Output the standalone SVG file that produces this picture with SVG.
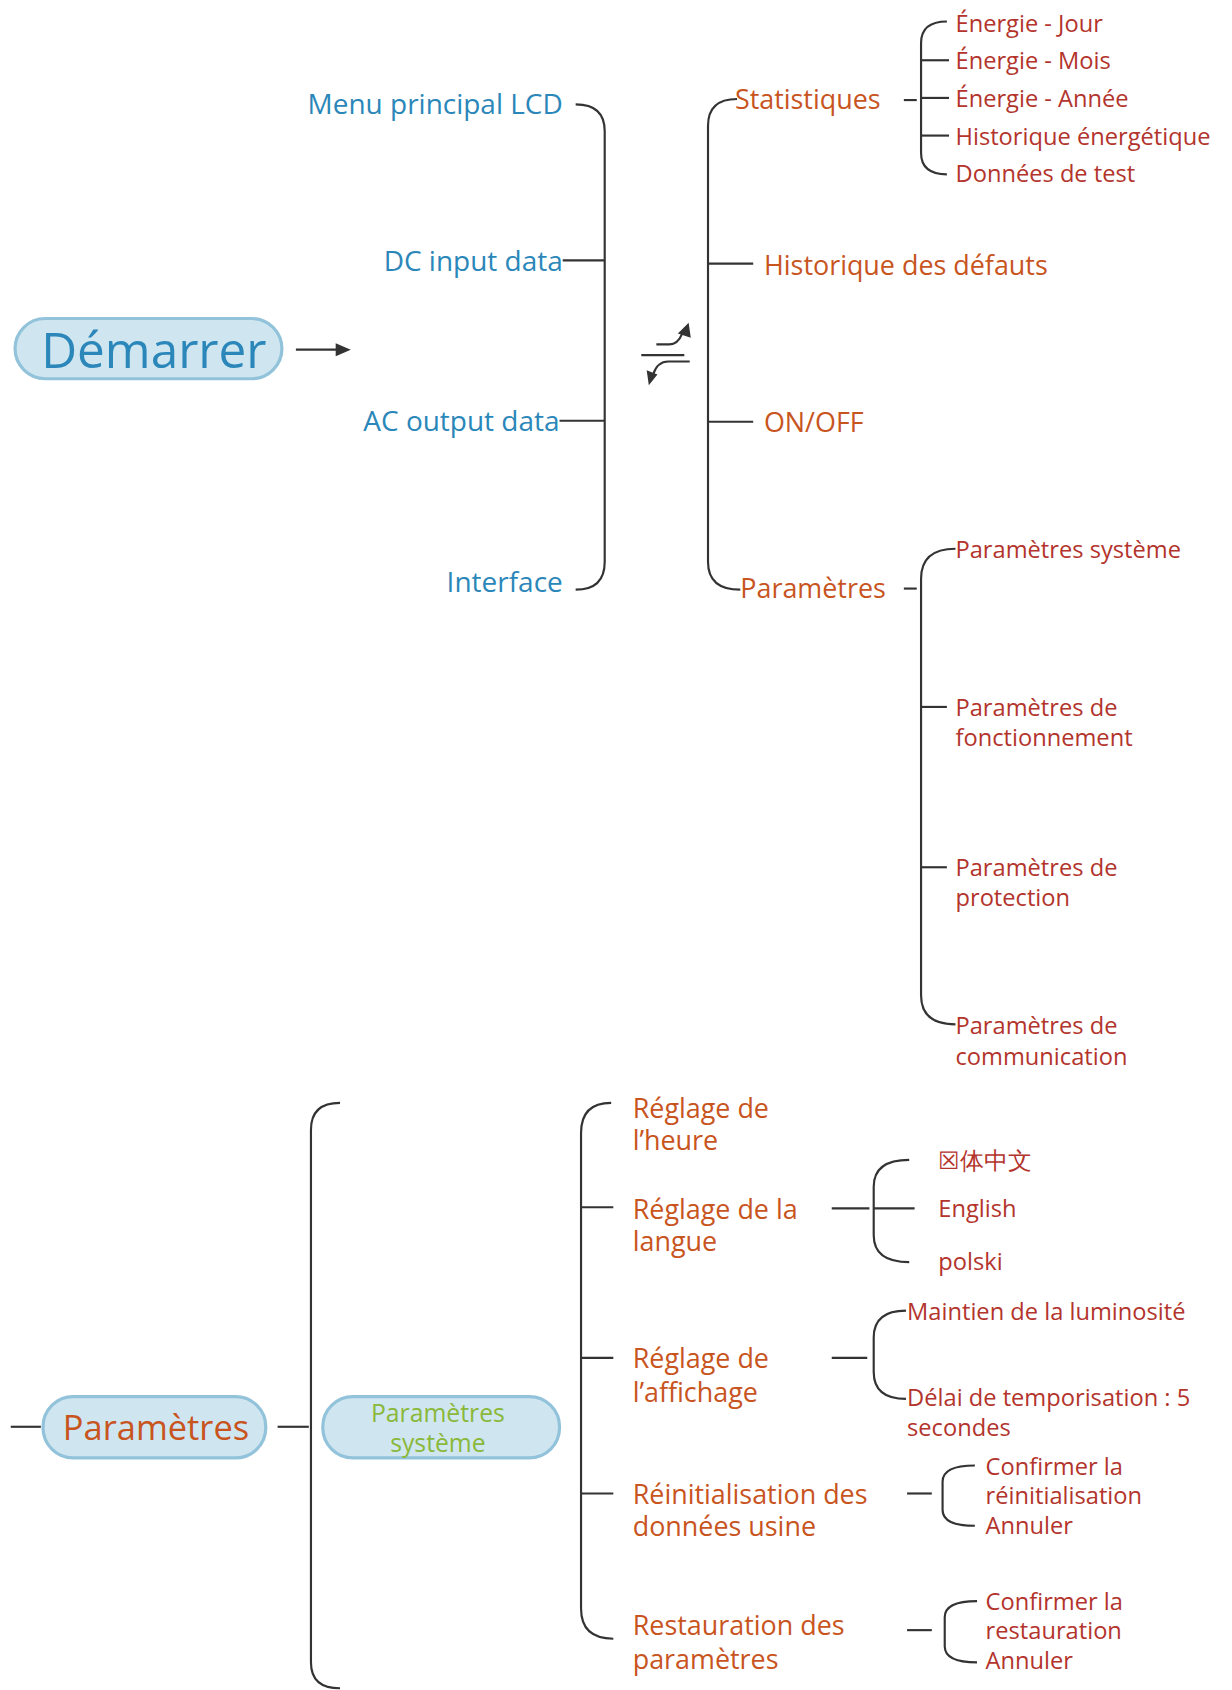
<svg xmlns="http://www.w3.org/2000/svg" width="1232" height="1690" viewBox="0 0 1232 1690">
<style>
text{font-family:"Open Sans","Liberation Sans",sans-serif;dominant-baseline:central}
.b{fill:#2b87b9;font-size:26px}
.o{fill:#c8541e;font-size:25px}
.r{fill:#b3342c;font-size:22px}
.g{fill:#8ab83a;font-size:23px}
.e{text-anchor:end}
path,line{fill:none;stroke:#333;stroke-width:2}
path.h{fill:#333;stroke:none}
.pill{fill:#cfe6f1;stroke:#92c3da;stroke-width:3}
</style>
<rect width="1232" height="1690" fill="#fff"/>
<g transform="scale(1.076)">
<g id="connectors">
<line x1="275" y1="325" x2="314" y2="325" stroke-width="3"/>
<path class="h" d="M326,325 l-14,-6 v12 z"/>
<path d="M535,97 q27,0 27,25 V522 q0,26 -27,26"/>
<line x1="523" y1="242" x2="562" y2="242"/><line x1="520" y1="391" x2="562" y2="391"/>
<path d="M685,92 q-27,0 -27,25 V522 q0,26 30,26"/>
<line x1="658" y1="245" x2="700" y2="245"/><line x1="658" y1="392" x2="700" y2="392"/>
<line x1="840" y1="93" x2="852" y2="93"/>
<path d="M880,20 q-24,0 -24,20 V142 q0,20 24,20"/>
<line x1="856" y1="56" x2="882" y2="56"/><line x1="856" y1="91" x2="882" y2="91"/><line x1="856" y1="126" x2="882" y2="126"/>
<line x1="840" y1="547" x2="852" y2="547"/>
<path d="M888,510 q-32,0 -32,28 V925 q0,27 32,27"/>
<line x1="856" y1="657" x2="880" y2="657"/><line x1="856" y1="806" x2="880" y2="806"/>
<line x1="10" y1="1326" x2="38" y2="1326"/>
<line x1="258" y1="1326" x2="287" y2="1326"/>
<path d="M316,1025 q-27,0 -27,25 V1545 q0,24 27,24"/>
<path d="M568,1025 q-28,0 -28,28 V1495 q0,28 30,28"/>
<line x1="540" y1="1122" x2="570" y2="1122"/><line x1="540" y1="1262" x2="570" y2="1262"/><line x1="540" y1="1388" x2="570" y2="1388"/>
<line x1="773" y1="1123" x2="808" y2="1123"/>
<path d="M845,1078 q-33,0 -33,25 V1148 q0,25 33,25"/>
<line x1="812" y1="1123" x2="850" y2="1123"/>
<line x1="773" y1="1262" x2="806" y2="1262"/>
<path d="M842,1218 q-30,0 -30,25 V1275 q0,25 30,25"/>
<line x1="843" y1="1388" x2="866" y2="1388"/>
<path d="M906,1362 q-30,0 -30,15 V1403 q0,15 30,15"/>
<line x1="843" y1="1515" x2="866" y2="1515" stroke-width="3"/>
<path d="M908,1488 q-30,0 -30,15 V1530 q0,15 30,15"/>
<path d="M596,330 h40 M610,320 h12 q8,0 12,-10 M641,336 h-20 q-10,0 -14,12" stroke-width="4"/>
<path class="h" d="M630,310 l10,-10 l2,14 z M611,348 l-8,10 l-2,-14 z"/>
</g>
<g id="start"><rect class="pill" x="14" y="296" width="248" height="56" rx="28"/><text x="143" y="324" text-anchor="middle" fill="#2b87b9" font-size="46">Démarrer</text></g>
<g id="left">
<text class="b e" x="523" y="96">Menu principal LCD</text>
<text class="b e" x="523" y="242">DC input data</text>
<text class="b e" x="520" y="390">AC output data</text>
<text class="b e" x="523" y="540">Interface</text>
</g>
<g id="right">
<text class="o" x="683" y="92">Statistiques</text>
<text class="o" x="710" y="246">Historique des défauts</text>
<text class="o" x="710" y="392">ON/OFF</text>
<text class="o" x="688" y="546">Paramètres</text>
</g>
<g id="stats">
<text class="r" x="888" y="21">Énergie - Jour</text>
<text class="r" x="888" y="56">Énergie - Mois</text>
<text class="r" x="888" y="91">Énergie - Année</text>
<text class="r" x="888" y="126">Historique énergétique</text>
<text class="r" x="888" y="161">Données de test</text>
</g>
<g id="params">
<text class="r" x="888" y="510">Paramètres système</text>
<text class="r" x="888" y="657">Paramètres de</text><text class="r" x="888" y="685">fonctionnement</text>
<text class="r" x="888" y="806">Paramètres de</text><text class="r" x="888" y="834">protection</text>
<text class="r" x="888" y="953">Paramètres de</text><text class="r" x="888" y="981">communication</text>
</g>
<g id="params2"><rect class="pill" x="40" y="1298" width="207" height="57" rx="28"/><text x="145" y="1326" text-anchor="middle" fill="#c8541e" font-size="32">Paramètres</text></g>
<g id="sys"><rect class="pill" x="300" y="1298" width="220" height="57" rx="28"/><text class="g" x="407" y="1313" text-anchor="middle">Paramètres</text><text class="g" x="407" y="1341" text-anchor="middle">système</text></g>
<g id="sub">
<text class="o" x="588" y="1029">Réglage de</text><text class="o" x="588" y="1059">l’heure</text>
<text class="o" x="588" y="1123">Réglage de la</text><text class="o" x="588" y="1153">langue</text>
<text class="o" x="588" y="1262">Réglage de</text><text class="o" x="588" y="1293">l’affichage</text>
<text class="o" x="588" y="1388">Réinitialisation des</text><text class="o" x="588" y="1418">données usine</text>
<text class="o" x="588" y="1510">Restauration des</text><text class="o" x="588" y="1541">paramètres</text>
</g>
<g id="leaves">
<text class="r" x="872" y="1078" font-family="'Open Sans','Noto Sans CJK SC',sans-serif">☒体中文</text>
<text class="r" x="872" y="1123">English</text>
<text class="r" x="872" y="1172">polski</text>
<text class="r" x="843" y="1218">Maintien de la luminosité</text>
<text class="r" x="843" y="1298">Délai de temporisation : 5</text>
<text class="r" x="843" y="1326">secondes</text>
<text class="r" x="916" y="1362">Confirmer la</text><text class="r" x="916" y="1389">réinitialisation</text><text class="r" x="916" y="1417">Annuler</text>
<text class="r" x="916" y="1488">Confirmer la</text><text class="r" x="916" y="1515">restauration</text><text class="r" x="916" y="1543">Annuler</text>
</g>
</g>
</svg>
